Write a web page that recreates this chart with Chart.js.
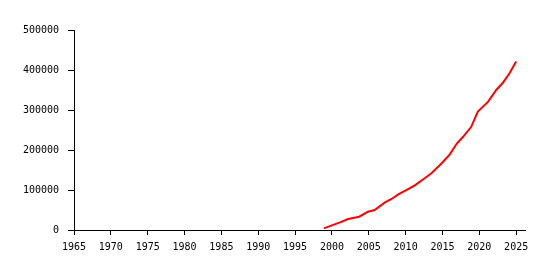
<!DOCTYPE html>
<html>
<head>
<meta charset="utf-8">
<script src="https://cdn.jsdelivr.net/npm/chart.js@4/dist/chart.umd.min.js"></script>
<style>
  body { margin: 0; background: #fff; }
</style>
</head>
<body>
<canvas id="myChart" width="552" height="270"></canvas>
<script>
// values
var years = [1998.9, 1999.9, 2001.1, 2002.2, 2003.7, 2004.9, 2005.8, 2007.2, 2008.1, 2009.0,
	2009.9, 2011.2, 2012.4, 2013.5, 2014.9, 2016.0, 2016.9, 2017.8, 2018.9, 2019.8,
	2021.2, 2022.3, 2023.2, 2024.1, 2025.0];
var counts = [4200, 10800, 19000, 27500, 33300, 45800, 50000, 69000, 77500, 89000,
	98000, 111000, 127000, 142000, 167000, 189000, 215000, 233000, 258000, 296000,
	321000, 350000, 368000, 392000, 421000];
var xTicks = [1965, 1970, 1975, 1980, 1985, 1990, 1995, 2000, 2005, 2010, 2015, 2020, 2025];
var yTicks = [0, 100000, 200000, 300000, 400000, 500000];

var points = [];
for (var i = 0; i < years.length; i++) {
	points.push({x: years[i], y: counts[i]});
}

Chart.defaults.font.family = "'DejaVu Sans Mono', monospace";
Chart.defaults.font.size = 10;
Chart.defaults.color = '#000';

var ctx = document.getElementById('myChart').getContext('2d');
var myChart = new Chart(ctx, {
	type: 'scatter',
	data: {
		datasets: [{
			data: points,
			showLine: true,
			borderColor: 'red',
			backgroundColor: 'red',
			borderWidth: 2,
			pointRadius: 0,
			tension: 0
		}]
	},
	options: {
		responsive: false,
		animation: false,
		layout: {padding: {top: 30, right: 27, bottom: 0, left: 0}},
		plugins: {legend: {display: false}, tooltip: {enabled: false}},
		scales: {
			x: {
				type: 'linear',
				min: 1965,
				max: 2026.2,
				afterBuildTicks: function(axis) {
					axis.ticks = xTicks.map(function(v) { return {value: v}; });
				},
				afterFit: function(axis) { axis.height = 40; },
				ticks: {padding: 6, maxRotation: 0, autoSkip: false, callback: function(v) { return String(v); }},
				grid: {drawOnChartArea: false, drawTicks: true, tickLength: 5, color: '#000'},
				border: {color: '#000', width: 1}
			},
			y: {
				min: 0,
				max: 500000,
				afterBuildTicks: function(axis) {
					axis.ticks = yTicks.map(function(v) { return {value: v}; });
				},
				afterFit: function(axis) { axis.width = 74; },
				ticks: {padding: 9, callback: function(v) { return String(v); }},
				grid: {drawOnChartArea: false, drawTicks: true, tickLength: 6, color: '#000'},
				border: {color: '#000', width: 1}
			}
		}
	}
});
</script>
</body>
</html>
